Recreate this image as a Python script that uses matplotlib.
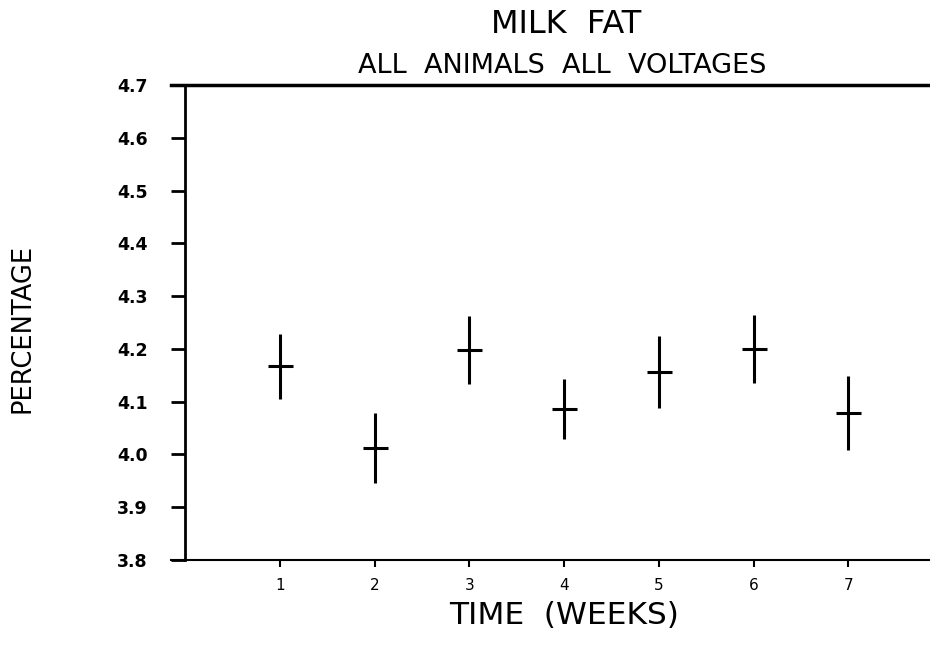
import numpy as np
import matplotlib.pyplot as plt

weeks = [1, 2, 3, 4, 5, 6, 7]
fat_mean = [4.167, 4.012, 4.198, 4.086, 4.156, 4.200, 4.079]
fat_err = [0.062, 0.067, 0.064, 0.057, 0.068, 0.064, 0.070]
y_ticks = [3.8, 3.9, 4.0, 4.1, 4.2, 4.3, 4.4, 4.5, 4.6, 4.7]

plt.rcParams["font.family"] = "DejaVu Sans"

fig = plt.figure(figsize=(9.3, 6.45), dpi=100)
ax = fig.add_axes([0.199, 0.1318, 0.815, 0.7364])

# mean values with vertical error bars, short horizontal dash at the mean
ax.errorbar(weeks, fat_mean, yerr=fat_err, fmt='_', color='black',
            markersize=18, markeredgewidth=2.2, elinewidth=2.2, capsize=0)

ax.set_xlim(0, 8)
ax.set_ylim(3.8, 4.7)
ax.set_xticks(weeks)
ax.set_xticklabels([str(w) for w in weeks], fontsize=11)
ax.set_yticks(y_ticks)
ax.set_yticklabels(["%.1f" % v for v in y_ticks], fontsize=12.5, fontweight='bold')

ax.tick_params(axis='y', direction='out', length=10, width=2, pad=17)
ax.tick_params(axis='x', direction='out', length=5, width=1.5, pad=8)

ax.spines['right'].set_visible(False)
ax.spines['left'].set_linewidth(2)
ax.spines['bottom'].set_linewidth(1.5)
ax.spines['top'].set_linewidth(2.5)
# top and bottom lines start a little left of the y axis, as in the original
ax.spines['bottom'].set_bounds(-0.15, 8)
ax.spines['top'].set_bounds(-0.15, 8)

ax.set_xlabel('TIME  (WEEKS)', fontsize=22.5, labelpad=6)
fig.text(0.024, 0.491, 'PERCENTAGE', rotation=90, fontsize=18.5,
         ha='center', va='center')

fig.text(0.609, 0.962, 'MILK  FAT', fontsize=23, ha='center', va='center')
fig.text(0.605, 0.898, 'ALL  ANIMALS  ALL  VOLTAGES', fontsize=19.5,
         ha='center', va='center')

fig.savefig("out.png", dpi=100)
